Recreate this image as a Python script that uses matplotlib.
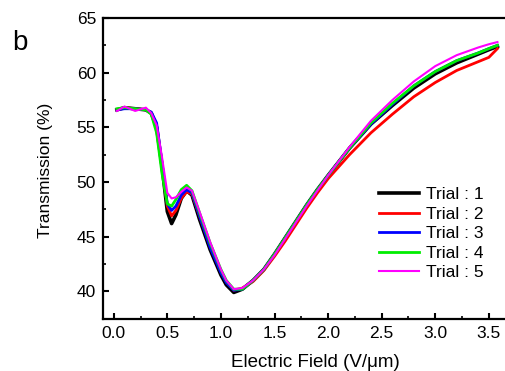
import matplotlib
matplotlib.use("Agg")
import matplotlib.pyplot as plt
from matplotlib.ticker import MultipleLocator

plt.rcParams['font.family'] = ['Liberation Sans', 'DejaVu Sans']

# electric field (V/um)
field = [0.03, 0.1, 0.2, 0.3, 0.35, 0.4, 0.45, 0.5, 0.54, 0.58, 0.63, 0.68, 0.73,
         0.8, 0.9, 1.0, 1.05, 1.12, 1.2, 1.3, 1.4, 1.5, 1.6, 1.7, 1.8, 1.9, 2.0,
         2.2, 2.4, 2.6, 2.8, 3.0, 3.2, 3.4, 3.5, 3.58]

# transmission (%) per trial
trial1 = [56.6, 56.8, 56.7, 56.6, 56.3, 55.0, 51.5, 47.3, 46.2, 47.0, 48.5, 49.2, 48.8,
          46.6, 43.8, 41.5, 40.6, 39.9, 40.2, 41.0, 42.0, 43.4, 44.9, 46.4, 47.9, 49.3, 50.6,
          53.1, 55.3, 57.0, 58.6, 59.9, 60.9, 61.7, 62.1, 62.4]
trial2 = [56.6, 56.8, 56.7, 56.6, 56.3, 55.0, 51.6, 47.8, 46.9, 47.4, 48.5, 49.1, 48.9,
          46.9, 44.1, 41.8, 40.9, 40.1, 40.3, 40.9, 41.9, 43.2, 44.6, 46.1, 47.6, 49.0, 50.3,
          52.5, 54.5, 56.2, 57.8, 59.1, 60.2, 61.0, 61.4, 62.2]
trial3 = [56.6, 56.7, 56.7, 56.6, 56.4, 55.4, 51.8, 48.0, 47.4, 47.8, 48.8, 49.3, 49.0,
          46.9, 44.0, 41.7, 40.8, 40.1, 40.2, 41.0, 42.0, 43.4, 44.9, 46.4, 47.9, 49.3, 50.6,
          53.1, 55.3, 57.1, 58.8, 60.1, 61.1, 61.8, 62.2, 62.5]
trial4 = [56.7, 56.8, 56.7, 56.6, 56.2, 54.5, 50.8, 48.0, 47.8, 48.4, 49.3, 49.7, 49.2,
          47.2, 44.4, 42.0, 41.0, 40.2, 40.2, 41.0, 42.0, 43.4, 44.9, 46.4, 47.9, 49.3, 50.6,
          53.1, 55.4, 57.2, 58.8, 60.1, 61.1, 61.8, 62.2, 62.5]
trial5 = [56.5, 56.9, 56.5, 56.8, 56.3, 55.2, 52.3, 49.0, 48.5, 48.6, 49.1, 49.5, 49.2,
          47.3, 44.5, 42.0, 41.0, 40.2, 40.3, 41.0, 42.0, 43.3, 44.8, 46.3, 47.8, 49.2, 50.6,
          53.2, 55.6, 57.5, 59.2, 60.6, 61.6, 62.3, 62.6, 62.8]

trials = [trial1, trial2, trial3, trial4, trial5]
labels = ['Trial : 1', 'Trial : 2', 'Trial : 3', 'Trial : 4', 'Trial : 5']
colors = ['black', '#ff0000', '#0000ff', '#00ee00', '#ff00ff']
widths = [2.6, 2.0, 2.0, 2.0, 1.5]

fig = plt.figure(figsize=(5.06, 3.71), dpi=100)
ax = fig.add_axes([0.2036, 0.141, 0.7964, 0.8105])

for t, lab, c, w in zip(trials, labels, colors, widths):
    ax.plot(field, t, color=c, lw=w, label=lab)

ax.set_xlim(-0.1, 3.66)
ax.set_ylim(37.5, 65)
ax.xaxis.set_major_locator(MultipleLocator(0.5))
ax.xaxis.set_minor_locator(MultipleLocator(0.25))
ax.yaxis.set_major_locator(MultipleLocator(5))
ax.yaxis.set_minor_locator(MultipleLocator(2.5))
ax.tick_params(which='major', direction='in', length=4, width=1.5, labelsize=12.5, pad=5)
ax.tick_params(which='minor', direction='in', length=2.5, width=1.2)
ax.tick_params(top=False, right=False, which='both')

for s in ['left', 'bottom', 'top']:
    ax.spines[s].set_linewidth(1.6)
ax.spines['right'].set_visible(False)

ax.set_xlabel('Electric Field (V/\u03bcm)', fontsize=13.5)
ax.set_ylabel('Transmission (%)', fontsize=12.5)
ax.xaxis.set_label_coords(0.526, -0.118)
ax.yaxis.set_label_coords(-0.124, 0.494)

ax.legend(loc='upper left', bbox_to_anchor=(0.667, 0.46), frameon=False, fontsize=12.5,
          handlelength=2.3, handletextpad=0.4, labelspacing=0.25, borderaxespad=0)

fig.text(0.025, 0.865, 'b', fontsize=20)

fig.savefig('out.png', dpi=100)
